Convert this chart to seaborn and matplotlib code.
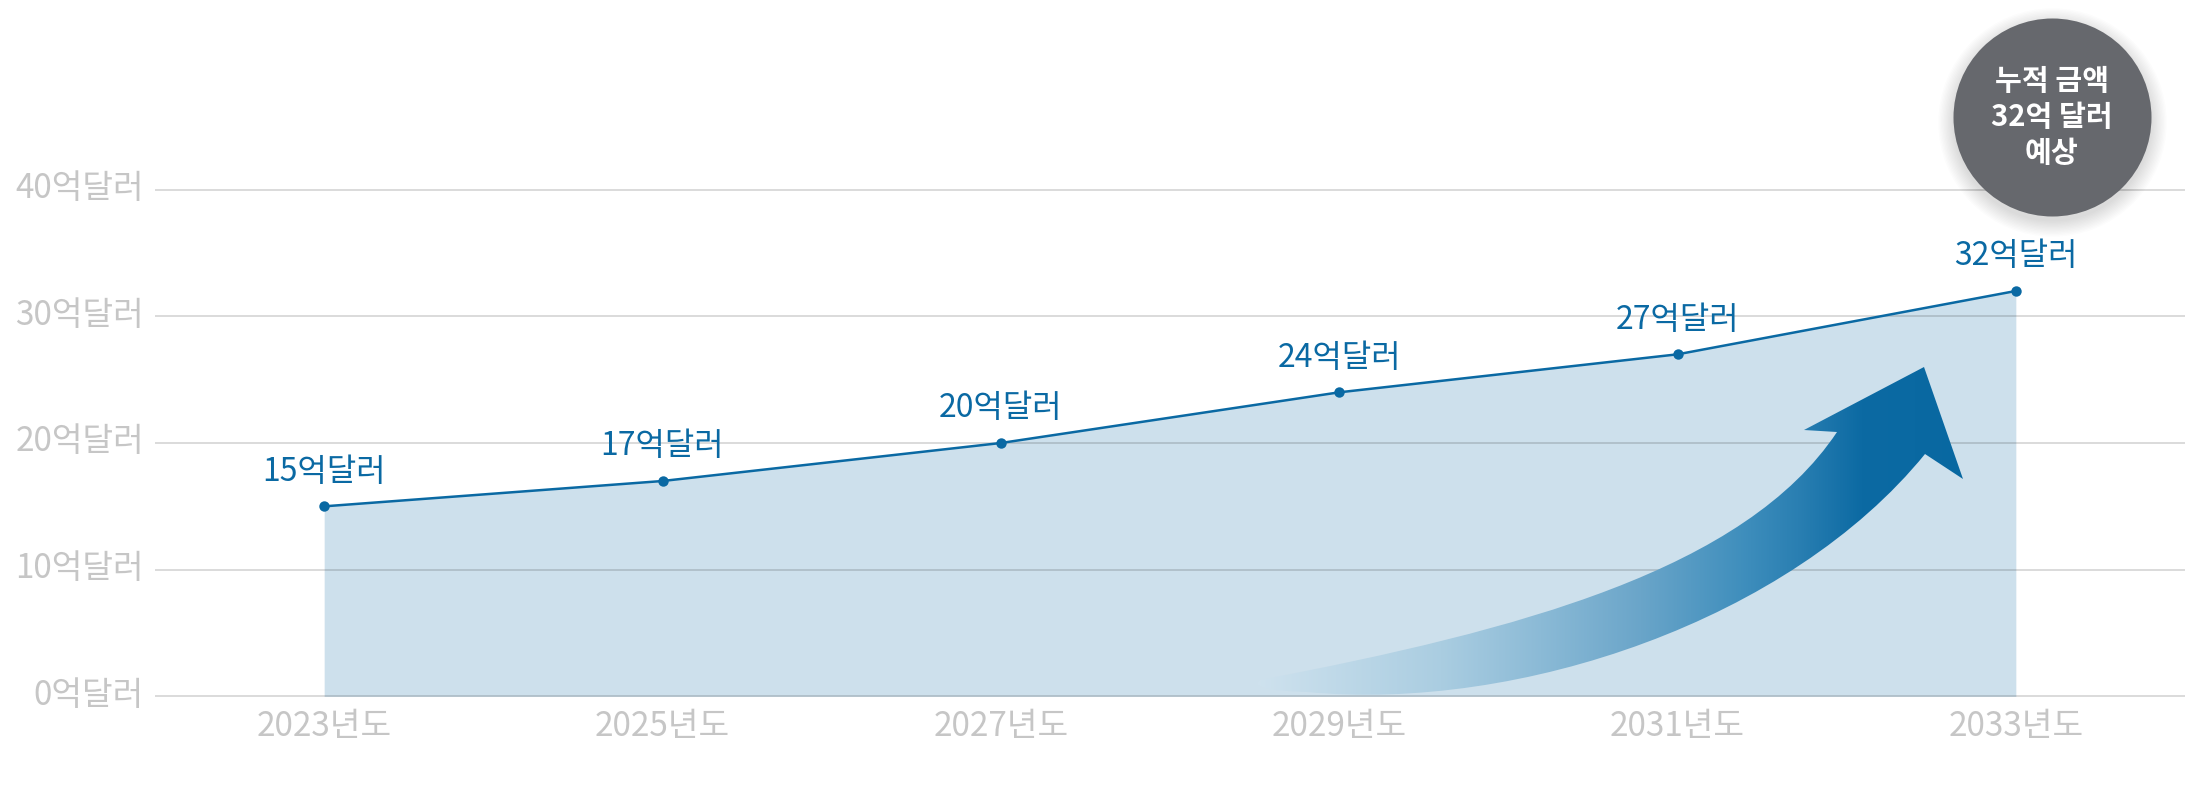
import numpy as np
import matplotlib
matplotlib.use("Agg")
import matplotlib.pyplot as plt
import matplotlib.transforms as mtransforms
import seaborn as sns
import pandas as pd
from matplotlib.path import Path
from matplotlib.patches import PathPatch
from matplotlib.colors import LinearSegmentedColormap

# ── Data ─────────────────────────────────────
years = [2023, 2025, 2027, 2029, 2031, 2033]
values = [15, 17, 20, 24, 27, 32]
value_labels = [f"{v}억달러" for v in values]
year_labels = [f"{y}년도" for y in years]
y_ticks = [0, 10, 20, 30, 40]
y_tick_labels = [f"{t}억달러" for t in y_ticks]
badge_lines = ["누적 금액", "32억 달러", "예상"]

df = pd.DataFrame({"year": years, "value": values})

# ── Style ────────────────────────────────────
sns.set_theme(style="white")
plt.rcParams["font.family"] = ["Noto Sans CJK KR", "DejaVu Sans"]

LINE = "#0a69a3"
FILL = "#cde0ec"
GREY_TXT = "#c6c6c6"
BADGE = "#66686d"

W, H = 2200, 800
fig = plt.figure(figsize=(22, 8), dpi=100)
ax = fig.add_axes([155 / W, 103 / H, (2185 - 155) / W, (697 - 189) / H])

# area + line
ax.fill_between(df["year"], df["value"], 0, color=FILL, lw=0, zorder=1)
sns.lineplot(data=df, x="year", y="value", color=LINE, lw=1.8,
             marker="o", markersize=7.5, markeredgewidth=0, zorder=4, ax=ax)

for x, v, lbl in zip(years, values, value_labels):
    ax.annotate(lbl, (x, v), xytext=(0, 25), textcoords="offset points",
                ha="center", va="center", color=LINE, fontsize=23, zorder=5)

# ── Gradient arrow (decoration, axes-fraction coords) ──
def to_ax(px, py):
    return ((px - 155) / 2030, (697 - py) / 508)

arrow_px = [(1260, 680),
            (1520, 630), (1745, 570), (1837, 432),      # upper edge
            (1804, 430), (1924, 367), (1963, 479), (1925, 454),   # head
            (1790, 620), (1520, 712), (1307, 692),      # lower edge
            (1245, 690), (1260, 680),                   # rounded tail
            (1260, 680)]
codes = ([Path.MOVETO] + [Path.CURVE4] * 3 + [Path.LINETO] * 4 +
         [Path.CURVE4] * 3 + [Path.CURVE3] * 2 + [Path.CLOSEPOLY])
arrow_path = Path([to_ax(*p) for p in arrow_px], codes)
patch = PathPatch(arrow_path, transform=ax.transAxes, fc="none", ec="none")
ax.add_patch(patch)

grad_cmap = LinearSegmentedColormap.from_list(
    "arr", [(0.0, "#cfe2ee"), (0.26, "#aacde1"), (0.4, "#8bbad6"),
            (0.54, "#6aa5c9"), (0.68, "#408fbd"), (0.76, "#2a7fb2"),
            (0.85, "#0c6aa3"), (1.0, "#0868a1")])
grad = np.linspace(0, 1, 256).reshape(1, -1)
x0, _ = to_ax(1255, 0)
x1, _ = to_ax(1970, 0)
im = ax.imshow(grad, cmap=grad_cmap, aspect="auto", extent=(x0, x1, 0, 1),
               transform=ax.transAxes, zorder=3, interpolation="bilinear")
im.set_clip_path(patch)

# ── Axes ─────────────────────────────────────
ax.set_xlim(2022, 2034)
ax.set_ylim(-0.05, 40.05)
ax.set_xticks(years)
ax.set_xticklabels(year_labels)
ax.set_yticks(y_ticks)
ax.set_yticklabels(y_tick_labels)
ax.set_xlabel("")
ax.set_ylabel("")
ax.tick_params(axis="both", length=0, labelsize=24, labelcolor=GREY_TXT)
ax.tick_params(axis="x", pad=9)
ax.tick_params(axis="y", pad=8)
for lab in ax.get_yticklabels():
    lab.set_transform(lab.get_transform() + mtransforms.ScaledTranslation(0, 5 / 100, fig.dpi_scale_trans))
ax.yaxis.grid(True, color="#272727", alpha=0.18, lw=1.3)
ax.xaxis.grid(False)
ax.set_axisbelow(False)
sns.despine(ax=ax, left=True, bottom=True)

# ── Badge ────────────────────────────────────
bx, by = to_ax(2052, 117)
diam = 198 * 0.72
for k in range(12):
    sh = mtransforms.offset_copy(ax.transAxes, fig, y=-5, units="dots")
    ax.scatter([bx], [by], s=(diam + 2.0 * k) ** 2, color="black", alpha=0.011,
               lw=0, transform=sh, clip_on=False, zorder=6)
ax.scatter([bx], [by], s=diam ** 2, color=BADGE, lw=0, transform=ax.transAxes,
           clip_on=False, zorder=7)
ax.text(bx, by, "\n".join(badge_lines), transform=ax.transAxes, ha="center", va="center",
        color="white", fontsize=21, fontweight="bold", linespacing=1.25, zorder=8)

fig.savefig("out.png", dpi=100, facecolor="white")
